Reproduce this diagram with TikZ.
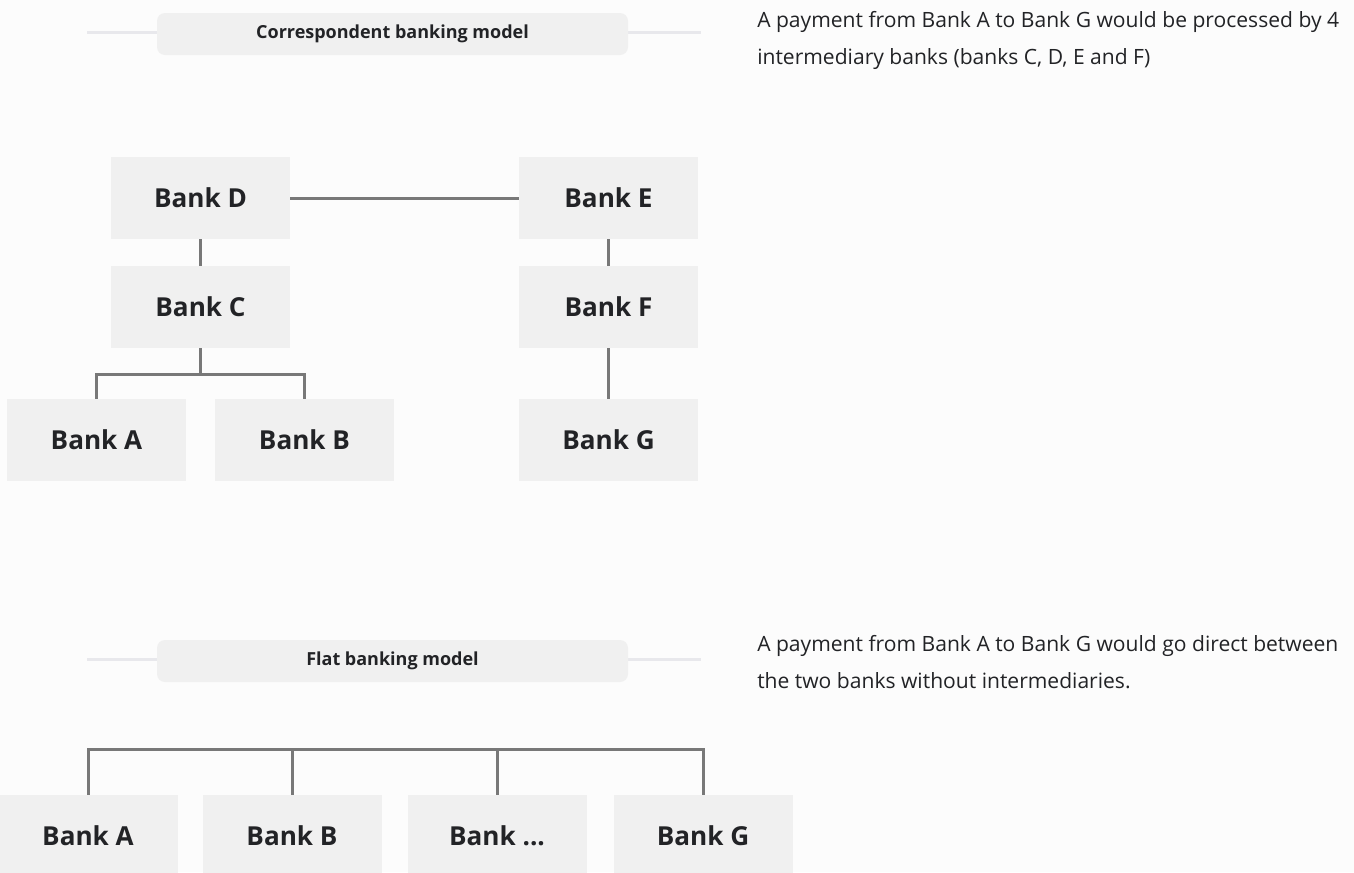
\documentclass[tikz,border=0pt]{standalone}
\usepackage{fontspec}
\setmainfont{Open Sans}
\usetikzlibrary{positioning,calc}
\definecolor{bkBox}{RGB}{240,240,240}
\definecolor{bkLine}{RGB}{120,120,120}
\definecolor{bkRule}{RGB}{232,232,236}
\definecolor{bkText}{RGB}{34,35,38}
\definecolor{bkPage}{RGB}{252,252,252}

\begin{document}
\begin{tikzpicture}[x=0.75pt, y=-0.75pt,
  bank/.style={rectangle, fill=bkBox, minimum width=134.25pt, minimum height=61.5pt, inner sep=0pt, text=bkText, font=\fontsize{19.6}{22}\selectfont\bfseries},
  title/.style={rectangle, rounded corners=6pt, fill=bkBox, minimum width=353.25pt, minimum height=31.5pt, inner sep=0pt, text=bkText, font=\fontsize{13.5}{15}\selectfont\bfseries},
  note/.style={anchor=base west, align=left, inner sep=0pt, text=bkText, font=\fontsize{15.8}{27.75}\selectfont},
  link/.style={draw=bkLine, line width=2.25pt},
  rule/.style={draw=bkRule, line width=2.25pt}]
  \fill[bkPage] (0,0) rectangle (1354,872);
  \clip (0,0) rectangle (1354,872);

  % correspondent model
  \coordinate (ruleAl) at (87,32);
  \coordinate (ruleAr) at (701,32);
  \draw[rule] (ruleAl) -- (ruleAr);
  \node[title] (corr) at (392.5,34) {Correspondent banking model};
  \node[note] (corrnote) at (757,64) {A payment from Bank A to Bank G would be processed by 4\\intermediary banks (banks C, D, E and F)};

  \node[bank] (bd) at (200.5,198) {Bank D};
  \node[bank] (bc) at (200.5,307) {Bank C};
  \node[bank] (be) at (608.5,198) {Bank E};
  \node[bank] (bf) at (608.5,307) {Bank F};
  \node[bank] (ba) at (96.5,440) {Bank A};
  \node[bank] (bb) at (304.5,440) {Bank B};
  \node[bank] (bg) at (608.5,440) {Bank G};

  \draw[link] (bd) -- (be);
  \draw[link] (bd) -- (bc);
  \draw[link] (be) -- (bf);
  \draw[link] (bf) -- (bg);
  \draw[link] (bc.south) -- ++(0,26) -| (ba.north);
  \draw[link] (bc.south) -- ++(0,26) -| (bb.north);

  % flat model
  \coordinate (ruleBl) at (87,659);
  \coordinate (ruleBr) at (701,659);
  \draw[rule] (ruleBl) -- (ruleBr);
  \node[title] (flat) at (392.5,661) {Flat banking model};
  \node[note] (flatnote) at (757,688) {A payment from Bank A to Bank G would go direct between\\the two banks without intermediaries.};

  \node[bank] (fa) at (88,836) {Bank A};
  \node[bank] (fb) at (292,836) {Bank B};
  \node[bank] (fx) at (497,836) {Bank ...};
  \node[bank] (fg) at (703,836) {Bank G};

  \draw[link] (fa.north) -- ++(0,-45) -| (fg.north);
  \draw[link] (fb.north) -- ++(0,-45);
  \draw[link] (fx.north) -- ++(0,-45);
\end{tikzpicture}
\end{document}
